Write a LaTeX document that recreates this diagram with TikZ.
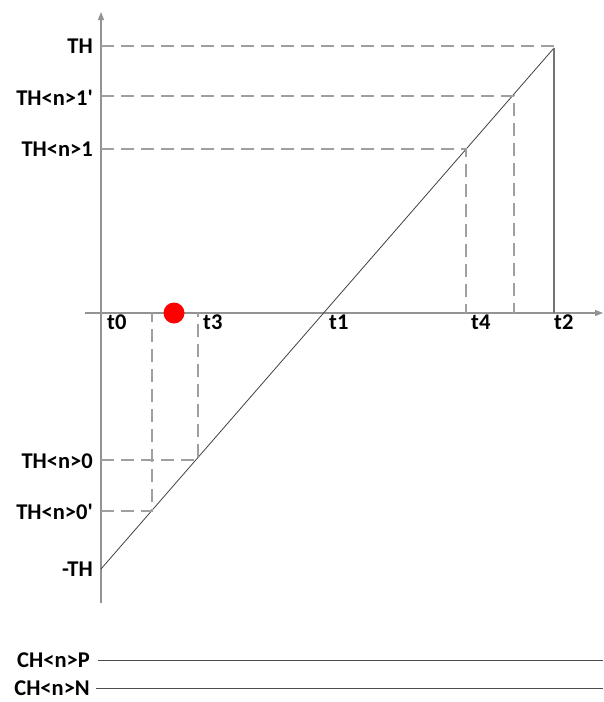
\documentclass[tikz,border=0pt]{standalone}
\usepackage{fontspec}
\setmainfont[Ligatures=TeXOff]{Carlito}
\usetikzlibrary{arrows.meta}
\tikzset{
    axis line/.style={line width=1.2pt, gray!85, -{Triangle[length=8pt,width=6pt]}},
    guide line/.style={line width=1.1pt, gray!75, dash pattern=on 13pt off 7pt},
    ramp line/.style={line width=0.8pt, black!75},
    fall line/.style={line width=1.2pt, gray!90!black},
    rail line/.style={line width=1pt, black!70},
    level label/.style={font=\bfseries\fontsize{22.5}{24}\selectfont, anchor=east, inner sep=2pt},
    time label/.style={font=\bfseries\fontsize{22.5}{24}\selectfont, anchor=north west, inner sep=2pt}
}
\begin{document}
\begin{tikzpicture}[x=1pt,y=-1pt]
    \useasboundingbox(0,0)rectangle(603,702);

    % axes
    \coordinate(Ybot)at(101,603);
    \coordinate(Ytop)at(101,12);
    \coordinate(Xl)at(85,313);
    \coordinate(Xr)at(603,313);
    \draw[axis line](Ybot)--(Ytop);
    \draw[axis line](Xl)--(Xr);

    % ramp
    \coordinate(Lo)at(101,569);
    \coordinate(Hi)at(554,48);
    \coordinate(T2)at(554,313);
    \draw[ramp line](Lo)--(Hi);
    \draw[fall line](Hi)--(T2);

    % crossing points on the ramp
    \coordinate(Pa)at(466,149);
    \coordinate(Pb)at(514,96);
    \coordinate(Pc)at(198,460);
    \coordinate(Pd)at(152,511);

    % dashed guides
    \draw[guide line](101,46)--(554,46);
    \draw[guide line](101,96)--(Pb)--(Pb|-Xl);
    \draw[guide line](101,149)--(Pa)--(Pa|-Xl);
    \draw[guide line](101,460)--(Pc)--(Pc|-Xl);
    \draw[guide line](101,511)--(Pd)--(Pd|-Xl);

    % level labels
    \node[level label](lTH)at(95,46){TH};
    \node[level label](lHa)at(95,98){TH<n>1'};
    \node[level label](lHb)at(95,149){TH<n>1};
    \node[level label](lLa)at(95,461){TH<n>0};
    \node[level label](lLb)at(95,512){TH<n>0'};
    \node[level label](lmTH)at(95,569){-TH};

    % time labels
    \node[time label](t0)at(105,313){t0};
    \node[time label](t3)at(201,313){t3};
    \node[time label](t1)at(327,313){t1};
    \node[time label](t4)at(469,313){t4};
    \node[time label](t2)at(552,313){t2};

    % marker
    \fill[red](174,313)circle(10.5pt);

    % channel rails
    \coordinate(Pend)at(603,660);
    \coordinate(Nend)at(603,688);
    \node[level label](CHP)at(92,660){CH<n>P};
    \node[level label](CHN)at(92,688){CH<n>N};
    \draw[rail line](CHP.east)++(6,0)--(Pend);
    \draw[rail line](CHN.east)++(4,0)--(Nend);
\end{tikzpicture}
\end{document}
